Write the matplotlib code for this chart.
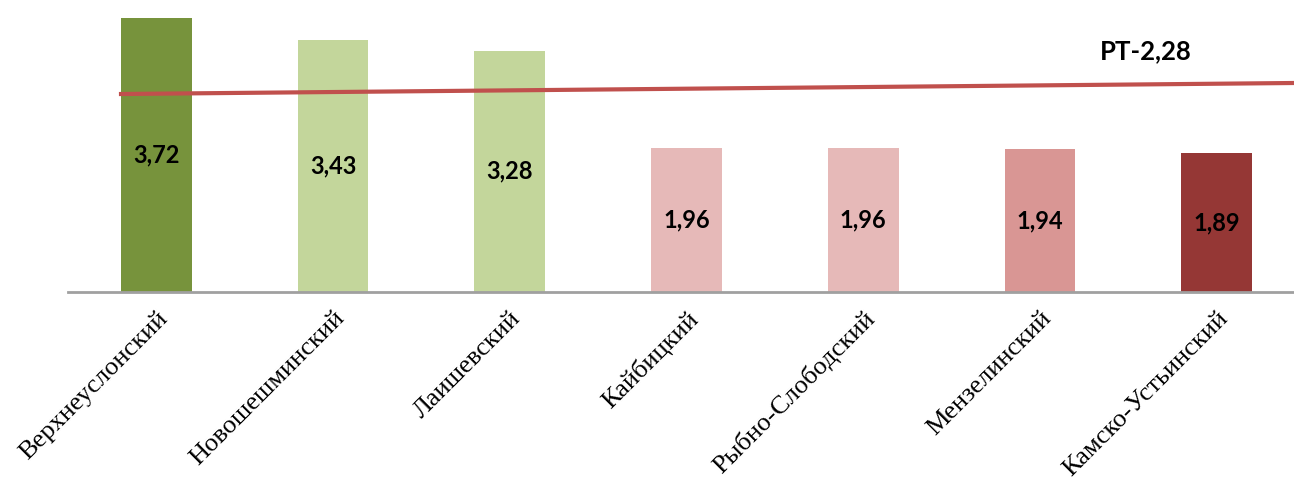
import matplotlib.pyplot as plt

districts = ['Верхнеуслонский', 'Новошешминский', 'Лаишевский', 'Кайбицкий',
             'Рыбно-Слободский', 'Мензелинский', 'Камско-Устьинский']
values = [3.72, 3.43, 3.28, 1.96, 1.96, 1.94, 1.89]
value_labels = ['3,72', '3,43', '3,28', '1,96', '1,96', '1,94', '1,89']
colors = ['#77933C', '#C3D69B', '#C3D69B', '#E6B9B8', '#E6B9B8', '#D99694', '#953735']

# average line (drawn slightly sloped, as in the original)
rt_label = 'РТ-2,28'
rt_line_x = [-0.2, 6.45]
rt_line_y = [2.69, 2.84]

fig = plt.figure(figsize=(12.94, 4.86), dpi=100)
ax = fig.add_axes([68 / 1294, 1 - 292 / 486, (1305 - 68) / 1294, 292 / 486])

x = list(range(len(districts)))
ax.bar(x, values, width=0.4, color=colors, zorder=2)

for xi, v, lab in zip(x, values, value_labels):
    ax.text(xi, v / 2, lab, ha='center', va='center', fontsize=17,
            fontweight='bold', family='Lato', zorder=3)

ax.plot(rt_line_x, rt_line_y, color='#C0504D', linewidth=3, zorder=4, clip_on=False)
ax.text(5.6, 3.27, rt_label, ha='center', va='center', fontsize=18.5,
        fontweight='bold', family='Lato')

ax.set_xlim(-0.5, 6.5)
ax.set_ylim(0, 292 / 73.6)
ax.set_yticks([])
ax.set_xticks(x)
ax.set_xticklabels(districts, rotation=45, ha='right', rotation_mode='anchor',
                   family='Liberation Serif', fontsize=19)
ax.tick_params(axis='x', length=0, pad=11)

for s in ['top', 'right', 'left']:
    ax.spines[s].set_visible(False)
ax.spines['bottom'].set_color('#A0A0A0')
ax.spines['bottom'].set_linewidth(2)

fig.savefig('out.png', dpi=100)
